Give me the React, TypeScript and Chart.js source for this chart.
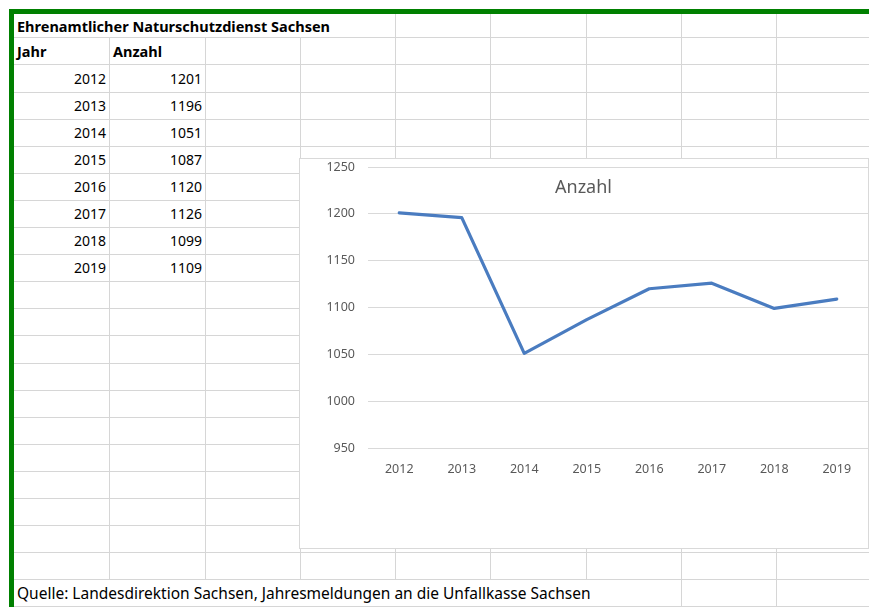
import React, { useEffect, useRef } from "react";
import { Chart, registerables } from "chart.js";

Chart.register(...registerables);

// ---- data ----
const SHEET_TITLE = "Ehrenamtlicher Naturschutzdienst Sachsen";
const HEAD_YEAR = "Jahr";
const HEAD_COUNT = "Anzahl";
const YEARS = ["2012", "2013", "2014", "2015", "2016", "2017", "2018", "2019"];
const COUNTS = [1201, 1196, 1051, 1087, 1120, 1126, 1099, 1109];
const CHART_TITLE = "Anzahl";
const SOURCE = "Quelle: Landesdirektion Sachsen, Jahresmeldungen an die Unfallkasse Sachsen";
const Y_MIN = 950;
const Y_MAX = 1250;
const Y_STEP = 50;

// ---- layout ----
const COL_X = [109, 205, 300, 395, 490, 586, 681, 776];
const ROW_Y: number[] = [];
for (let i = 0; i < 22; i++) ROW_Y.push(Math.round(37.3 + i * 27.1));
const GRID = "#d6d6d6";
const FONT = "'Noto Sans', Lato, sans-serif";

const titlePlugin = {
  id: "excelTitle",
  afterDraw(chart: any) {
    const ctx = chart.ctx;
    ctx.save();
    ctx.font = "18px 'Noto Sans', Lato, sans-serif";
    ctx.fillStyle = "#595959";
    ctx.textAlign = "center";
    ctx.textBaseline = "middle";
    ctx.fillText(CHART_TITLE, 283.5, 29);
    ctx.restore();
  },
};

function LineChart() {
  const ref = useRef<HTMLCanvasElement>(null);
  useEffect(() => {
    if (!ref.current) return;
    const chart = new Chart(ref.current, {
      type: "line",
      data: {
        labels: YEARS,
        datasets: [
          {
            label: CHART_TITLE,
            data: COUNTS,
            borderColor: "#4a7cc0",
            borderWidth: 3.2,
            pointRadius: 0,
            tension: 0,
            borderCapStyle: "round",
            borderJoinStyle: "round",
            fill: false,
          },
        ],
      },
      options: {
        animation: false,
        responsive: false,
        devicePixelRatio: 1,
        layout: { padding: { top: 8, left: 0, right: 0, bottom: 0 } },
        plugins: { legend: { display: false }, title: { display: false }, tooltip: { enabled: false } },
        scales: {
          x: {
            offset: true,
            grid: { display: false, drawTicks: false },
            border: { display: false },
            ticks: {
              color: "#595959",
              font: { family: "'Noto Sans'", size: 12.5 },
              padding: 14,
              maxRotation: 0,
              autoSkip: false,
            },
            afterFit: (s: any) => {
              s.height = 100;
            },
          },
          y: {
            min: Y_MIN,
            max: Y_MAX,
            grid: { color: "#d9d9d9", lineWidth: 1, drawTicks: true, tickLength: 13, tickColor: "rgba(0,0,0,0)" },
            border: { display: false },
            ticks: {
              stepSize: Y_STEP,
              color: "#595959",
              font: { family: "'Noto Sans'", size: 12.5 },
              padding: 0,
              callback: (v: any) => String(v),
            },
            afterFit: (s: any) => {
              s.width = 68;
            },
          },
        },
      },
      plugins: [titlePlugin],
    });
    return () => chart.destroy();
  }, []);
  return (
    <canvas
      ref={ref}
      width={568}
      height={389}
      style={{ position: "absolute", left: 0, top: 0, width: 568, height: 389 }}
    />
  );
}

export default function App() {
  const lines: React.ReactNode[] = [];
  ROW_Y.forEach((y, i) => {
    lines.push(
      <div key={"h" + i} style={{ position: "absolute", left: 14, top: y, width: 869, height: 1, background: GRID }} />
    );
  });
  const rowTops = [14, ...ROW_Y];
  rowTops.forEach((top, r) => {
    const bottom = r + 1 < rowTops.length ? rowTops[r + 1] : 607;
    COL_X.forEach((x, c) => {
      if (r === 0 && x <= 300) return;
      if (top >= 578 && top < 600 && x <= 586) return;
      lines.push(
        <div
          key={"v" + r + "_" + c}
          style={{ position: "absolute", left: x, top, width: 1, height: bottom - top, background: GRID }}
        />
      );
    });
  });

  const cell = (
    key: string,
    text: string,
    left: number,
    top: number,
    width: number,
    height: number,
    align: "left" | "right",
    bold = false,
    size = 14
  ) => (
    <div
      key={key}
      style={{
        position: "absolute",
        left,
        top,
        width,
        height,
        lineHeight: height + 1 + "px",
        textAlign: align,
        fontWeight: bold ? 700 : 400,
        fontSize: size,
        color: "#000",
        whiteSpace: "nowrap",
      }}
    >
      {text}
    </div>
  );

  const cells: React.ReactNode[] = [];
  cells.push(cell("title", SHEET_TITLE, 17, 14, 400, ROW_Y[0] - 14, "left", true, 14.5));
  cells.push(cell("hy", HEAD_YEAR, 17, ROW_Y[0], 90, ROW_Y[1] - ROW_Y[0], "left", true, 14.5));
  cells.push(cell("hc", HEAD_COUNT, 113, ROW_Y[0], 90, ROW_Y[1] - ROW_Y[0], "left", true, 14.5));
  YEARS.forEach((yr, i) => {
    const top = ROW_Y[1 + i];
    const h = ROW_Y[2 + i] - top;
    cells.push(cell("y" + i, yr, 14, top, 92, h, "right"));
    cells.push(cell("c" + i, String(COUNTS[i]), 109, top, 93, h, "right"));
  });
  cells.push(cell("src", SOURCE, 17, ROW_Y[20], 700, 27, "left", false, 15.5));

  return (
    <div
      style={{
        position: "fixed",
        left: 0,
        top: 0,
        width: 869,
        height: 607,
        overflow: "hidden",
        background: "#fff",
        fontFamily: FONT,
      }}
    >
      {lines}
      {cells}
      <div
        style={{
          position: "absolute",
          left: 299,
          top: 158,
          width: 568,
          height: 389,
          background: "#fff",
          border: "1px solid #d9d9d9",
        }}
      >
        <LineChart />
      </div>
      <div style={{ position: "absolute", left: 9, top: 9, width: 860, height: 5, background: "#008000" }} />
      <div style={{ position: "absolute", left: 9, top: 9, width: 5, height: 598, background: "#008000" }} />
    </div>
  );
}
